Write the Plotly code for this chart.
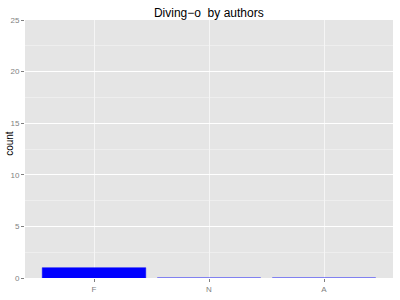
import plotly.graph_objects as go

categories = ["F", "N", "A"]
counts = [1, 0, 0]
y_ticks = [0, 5, 10, 15, 20, 25]

fig = go.Figure(go.Bar(
    x=categories, y=counts, width=0.9,
    marker=dict(color="#0000FF", line=dict(color="#0000FF", width=0.5)),
))

fig.update_layout(
    width=400, height=300,
    margin=dict(l=25, r=7, t=20, b=22),
    paper_bgcolor="white", plot_bgcolor="#E5E5E5",
    showlegend=False,
    title=dict(text="Diving\u2212o\u00a0 by authors", x=0.522, xanchor="center",
               y=0.958, yanchor="middle",
               font=dict(family="Liberation Sans, Arial", size=12, color="black")),
    font=dict(family="Liberation Sans, Arial"),
    annotations=[dict(text="count", textangle=-90, xref="paper", yref="paper",
                      x=0, y=0.52, xanchor="center", yanchor="middle", xshift=-15,
                      showarrow=False, font=dict(size=10, color="black"))],
)
fig.update_xaxes(
    range=[-0.6, 2.6], showgrid=True, gridcolor="#F5F5F5", gridwidth=1,
    ticks="outside", ticklen=3, tickcolor="#7F7F7F", automargin=False,
    tickfont=dict(size=8, color="#7F7F7F"), zeroline=False, showline=False,
)
fig.update_yaxes(
    range=[0, 25], tickvals=y_ticks, showgrid=True, gridcolor="#FFFFFF", gridwidth=1,
    minor=dict(dtick=2.5, showgrid=True, gridcolor="#EEEEEE", gridwidth=0.5),
    ticks="outside", ticklen=3, tickcolor="#7F7F7F", automargin=False,
    tickfont=dict(size=8, color="#7F7F7F"), zeroline=False, showline=False,
)

fig.write_html("out.html")
